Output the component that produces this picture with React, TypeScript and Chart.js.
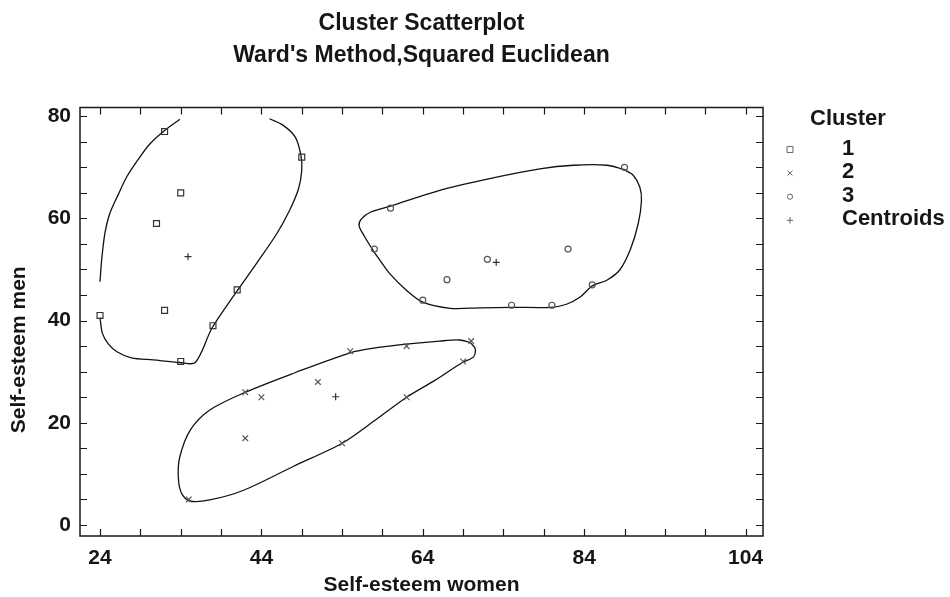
import React, { useEffect, useRef } from 'react';
import { Chart, registerables } from 'chart.js';
import { drawPoint } from 'chart.js/helpers';

Chart.register(...registerables);

const FONT = '"Liberation Sans", Arial, Helvetica, sans-serif';
const TEXT = '#161616';

const titleLines = ['Cluster Scatterplot', "Ward's Method,Squared Euclidean"];
const xAxisTitle = 'Self-esteem women';
const yAxisTitle = 'Self-esteem men';
const legendTitle = 'Cluster';
const seriesNames = ['1', '2', '3', 'Centroids'];

const xTickValues = [24, 29, 34, 39, 44, 49, 54, 59, 64, 69, 74, 79, 84, 89, 94, 99, 104];
const xTickLabels = [24, 44, 64, 84, 104];
const yTickValues = [0, 5, 10, 15, 20, 25, 30, 35, 40, 45, 50, 55, 60, 65, 70, 75, 80];
const yTickLabels = [0, 20, 40, 60, 80];

// Cluster members
const cluster1X = [32, 49, 34, 31, 41, 32, 24, 38, 34];
const cluster1Y = [77, 72, 65, 59, 46, 42, 41, 39, 32];
const cluster2X = [70, 62, 55, 69, 51, 42, 44, 62, 42, 54, 35];
const cluster2Y = [36, 35, 34, 32, 28, 26, 25, 25, 17, 16, 5];
const cluster3X = [89, 60, 58, 72, 82, 67, 64, 75, 80, 85];
const cluster3Y = [70, 62, 54, 52, 54, 48, 44, 43, 43, 47];
const centroidX = [34.9, 53.2, 73.1];
const centroidY = [52.5, 25.1, 51.4];

// Outline curves
const hull1X = [24, 24.2, 24.6, 25.2, 26.3, 27.3, 28.8, 30.2, 32.0, 33.9, null,
  45.0, 46.7, 48.2, 48.9, 49.0, 48.6, 47.5, 45.9, 43.4, 40.9, 37.9, 35.8, 33.9, 30.6, 27.9, 26.1, 25.0, 24.3, 24.0];
const hull1Y = [47.6, 51.8, 57.0, 60.9, 64.8, 68.1, 71.7, 74.6, 77.2, 79.4, null,
  79.5, 78.2, 75.9, 72.3, 69.4, 65.8, 61.6, 57.0, 51.2, 45.6, 38.6, 31.8, 31.8, 32.3, 32.7, 33.9, 35.5, 37.5, 40.6];
const hull2X = [69.9, 70.5, 70.3, 68.9, 65.5, 62.0, 58.0, 54.0, 48.0, 41.8, 37.6, 35.1, 34.1, 33.7, 33.9, 35.2, 37.6, 41.9, 48.0, 55.0, 58.3, 61.9, 66.1, 68.6, 69.9];
const hull2Y = [35.7, 34.5, 32.9, 31.8, 28.3, 25.0, 20.4, 16.0, 11.5, 6.8, 4.9, 4.7, 6.2, 9.4, 13.4, 18.6, 22.5, 25.9, 29.7, 33.7, 34.7, 35.4, 36.0, 36.2, 35.7];
const hull3X = [88.9, 90.1, 90.9, 91.1, 90.7, 89.7, 88.4, 86.8, 85.0, 83.5, 81.8, 79.9, 75.0, 71.1, 67.4, 64.0, 62.0, 59.9, 58.7, 57.9, 56.8, 56.1, 56.4, 57.5, 60.0, 66.1, 72.3, 78.5, 82.7, 86.8, 88.9];
const hull3Y = [69.6, 68.4, 66.1, 63.5, 59.0, 53.8, 49.9, 47.9, 46.8, 44.6, 43.2, 42.6, 42.6, 42.5, 42.4, 43.6, 45.9, 49.2, 51.8, 53.6, 56.4, 58.6, 59.9, 61.2, 62.4, 65.5, 67.8, 69.7, 70.4, 70.4, 69.6];

const X_MIN = 21.52;
const X_MAX = 106.16;
const Y_MIN = -2.15;
const Y_MAX = 81.7;

const pts = (xs: (number | null)[], ys: (number | null)[]) =>
  xs.map((x, i) => ({ x, y: ys[i] }));

const markerSet = (label: string, xs: number[], ys: number[], style: string, radius: number, color: string) => ({
  label,
  data: pts(xs, ys),
  showLine: false,
  pointStyle: style,
  pointRadius: radius,
  pointHoverRadius: radius,
  pointBackgroundColor: 'rgba(255,255,255,0)',
  pointBorderColor: color,
  pointBorderWidth: 1.2,
});

const hullSet = (xs: (number | null)[], ys: (number | null)[]) => ({
  label: '',
  data: pts(xs, ys),
  showLine: true,
  spanGaps: false,
  tension: 0.3,
  borderColor: '#111',
  borderWidth: 1.3,
  pointRadius: 0,
  pointHoverRadius: 0,
  fill: false,
});

const legendRadius = [4.2, 3.5, 2.6, 3.2];
const TICK = 7;

const framePlugin = {
  id: 'frameLegend',
  afterDraw(chart: any) {
    const { ctx, chartArea: a, scales } = chart;
    ctx.save();
    // frame
    ctx.strokeStyle = '#1a1a1a';
    ctx.lineWidth = 1.5;
    ctx.strokeRect(a.left, a.top, a.right - a.left, a.bottom - a.top);
    // inward tick marks on all four sides
    ctx.lineWidth = 1.2;
    ctx.beginPath();
    scales.x.ticks.forEach((t: any) => {
      const px = Math.round(scales.x.getPixelForValue(t.value)) + 0.5;
      ctx.moveTo(px, a.bottom);
      ctx.lineTo(px, a.bottom - TICK);
      ctx.moveTo(px, a.top);
      ctx.lineTo(px, a.top + TICK);
    });
    scales.y.ticks.forEach((t: any) => {
      const py = Math.round(scales.y.getPixelForValue(t.value)) + 0.5;
      ctx.moveTo(a.left, py);
      ctx.lineTo(a.left + TICK, py);
      ctx.moveTo(a.right, py);
      ctx.lineTo(a.right - TICK, py);
    });
    ctx.stroke();

    // y axis title
    ctx.fillStyle = TEXT;
    ctx.font = `bold 21px ${FONT}`;
    ctx.textAlign = 'center';
    ctx.textBaseline = 'middle';
    ctx.save();
    ctx.translate(a.left - 61, (a.top + a.bottom) / 2 + 28);
    ctx.rotate(-Math.PI / 2);
    ctx.fillText(yAxisTitle, 0, 0);
    ctx.restore();

    // legend
    ctx.textAlign = 'left';
    ctx.textBaseline = 'alphabetic';
    ctx.font = `bold 22px ${FONT}`;
    ctx.fillText(legendTitle, a.right + 47, a.top + 17);
    const ds = chart.data.datasets;
    seriesNames.forEach((name, i) => {
      const baseY = a.top + 47 + i * 23.6;
      ctx.fillStyle = TEXT;
      ctx.fillText(name, a.right + 79, baseY);
      ctx.fillStyle = 'rgba(255,255,255,0)';
      ctx.strokeStyle = '#666';
      ctx.lineWidth = 1;
      drawPoint(ctx, { pointStyle: ds[i].pointStyle, radius: legendRadius[i], rotation: 0, borderWidth: 1 }, a.right + 27, baseY - 5);
    });
    ctx.restore();
  },
};

export default function App() {
  const ref = useRef<HTMLCanvasElement>(null);
  useEffect(() => {
    if (!ref.current) return;
    const chart = new Chart(ref.current, {
      type: 'scatter',
      data: {
        datasets: [
          markerSet(seriesNames[0], cluster1X, cluster1Y, 'rect', 4.2, '#333'),
          markerSet(seriesNames[1], cluster2X, cluster2Y, 'crossRot', 4, '#555'),
          markerSet(seriesNames[2], cluster3X, cluster3Y, 'circle', 3, '#555'),
          markerSet(seriesNames[3], centroidX, centroidY, 'cross', 3.5, '#333'),
          hullSet(hull1X, hull1Y),
          hullSet(hull2X, hull2Y),
          hullSet(hull3X, hull3Y),
        ] as any,
      },
      options: {
        responsive: false,
        devicePixelRatio: 1,
        animation: false,
        events: [],
        layout: { padding: { left: 0, right: 187, top: 0, bottom: 0 } },
        plugins: {
          legend: { display: false },
          tooltip: { enabled: false },
          title: {
            display: true,
            text: titleLines,
            fullSize: false,
            color: TEXT,
            font: { family: FONT, size: 23, weight: 'bold', lineHeight: 32 / 23 },
            padding: { top: 7.6, bottom: 35.9 },
          },
        },
        scales: {
          x: {
            type: 'linear',
            position: 'bottom',
            min: X_MIN,
            max: X_MAX,
            grid: { display: false, drawTicks: false },
            border: { display: false },
            afterBuildTicks: (s: any) => {
              s.ticks = xTickValues.map((v) => ({ value: v }));
            },
            afterFit: (s: any) => {
              s.height = 61;
            },
            ticks: {
              autoSkip: false,
              maxRotation: 0,
              padding: 10,
              color: TEXT,
              font: { family: FONT, size: 21, weight: 'bold' },
              callback: (v: any) => (xTickLabels.includes(Number(v)) ? String(v) : ''),
            },
            title: {
              display: true,
              text: xAxisTitle,
              color: TEXT,
              font: { family: FONT, size: 21, weight: 'bold', lineHeight: 1.1 },
              padding: { top: 0, bottom: 0 },
            },
          },
          y: {
            type: 'linear',
            min: Y_MIN,
            max: Y_MAX,
            grid: { display: false, drawTicks: false },
            border: { display: false },
            afterBuildTicks: (s: any) => {
              s.ticks = yTickValues.map((v) => ({ value: v }));
            },
            afterFit: (s: any) => {
              s.width = 80;
            },
            ticks: {
              autoSkip: false,
              padding: 9,
              color: TEXT,
              font: { family: FONT, size: 21, weight: 'bold' },
              callback: (v: any) => (yTickLabels.includes(Number(v)) ? String(v) : ''),
            },
            title: { display: false },
          },
        },
      } as any,
      plugins: [framePlugin],
    });
    return () => chart.destroy();
  }, []);
  return (
    <div style={{ position: 'fixed', left: 0, top: 0, width: 950, height: 597, background: '#fff' }}>
      <canvas ref={ref} width={950} height={597} style={{ display: 'block', width: 950, height: 597 }} />
    </div>
  );
}
